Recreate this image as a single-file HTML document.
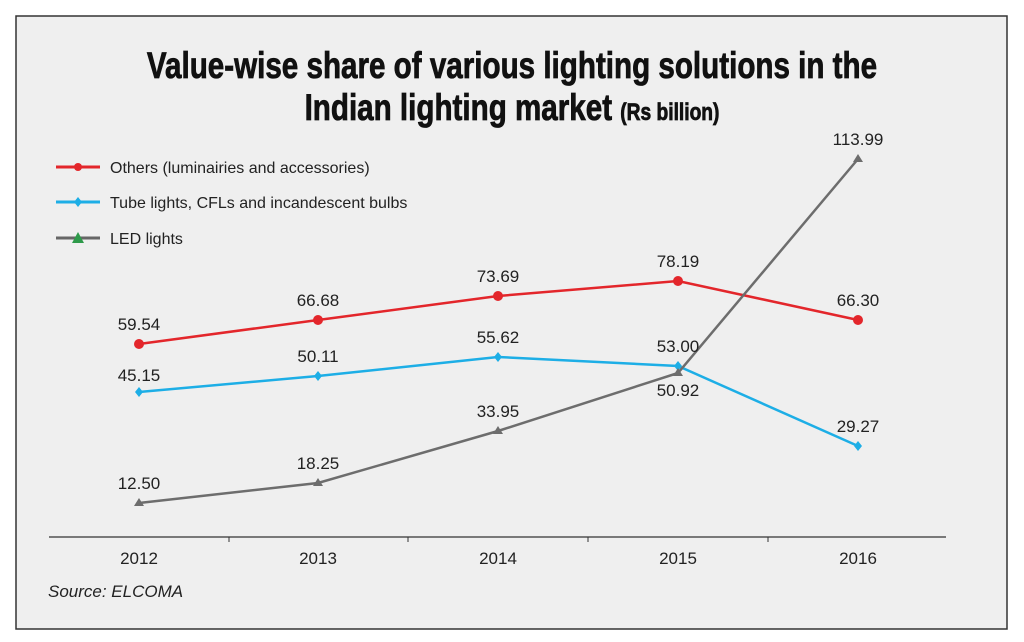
<!DOCTYPE html>
<html><head><meta charset="utf-8"><style>
body{margin:0;background:#fff;}
svg{display:block;}
</style></head><body>
<svg width="1024" height="642" xmlns="http://www.w3.org/2000/svg" font-family="Liberation Sans, sans-serif">
<rect x="16" y="16" width="991" height="613" fill="#efefef" stroke="#333" stroke-width="1.5"/>
<g font-family="Liberation Sans Narrow, Liberation Sans, sans-serif" font-weight="bold" fill="#111" text-anchor="middle" stroke="#111" stroke-width="0.8">
<text x="512" y="78" font-size="37" transform="translate(512 0) scale(0.80 1) translate(-512 0)">Value-wise share of various lighting solutions in the</text>
<text x="512" y="120" font-size="37" transform="translate(512 0) scale(0.80 1) translate(-512 0)">Indian lighting market <tspan font-size="24">(Rs billion)</tspan></text>
</g>
<g font-size="16" fill="#222">
<line x1="56" y1="167" x2="100" y2="167" stroke="#e3262b" stroke-width="3"/><circle cx="78" cy="167" r="4" fill="#e3262b"/>
<text x="110" y="173">Others (luminairies and accessories)</text>
<line x1="56" y1="202" x2="100" y2="202" stroke="#1daee6" stroke-width="3"/><path d="M78 197 L82 202 L78 207 L74 202Z" fill="#1daee6"/>
<text x="110" y="208">Tube lights, CFLs and incandescent bulbs</text>
<line x1="56" y1="238" x2="100" y2="238" stroke="#666" stroke-width="3"/><path d="M78 232 L84 243 L72 243Z" fill="#2e9a4a"/>
<text x="110" y="244">LED lights</text>
</g>
<line x1="49" y1="537" x2="946" y2="537" stroke="#333" stroke-width="1.2"/>
<g stroke="#333"><line x1="229" y1="537" x2="229" y2="542"/><line x1="408" y1="537" x2="408" y2="542"/><line x1="588" y1="537" x2="588" y2="542"/><line x1="768" y1="537" x2="768" y2="542"/></g>
<g font-size="17" fill="#222" text-anchor="middle">
<text x="139" y="564">2012</text><text x="318" y="564">2013</text><text x="498" y="564">2014</text><text x="678" y="564">2015</text><text x="858" y="564">2016</text>
</g>
<text x="48" y="597" font-size="17" font-style="italic" fill="#222">Source: ELCOMA</text>
<polyline points="139,344 318,320 498,296 678,281 858,320" fill="none" stroke="#e3262b" stroke-width="2.5"/>
<g fill="#e3262b"><circle cx="139" cy="344" r="5"/><circle cx="318" cy="320" r="5"/><circle cx="498" cy="296" r="5"/><circle cx="678" cy="281" r="5"/><circle cx="858" cy="320" r="5"/></g>
<polyline points="139,392 318,376 498,357 678,366 858,446" fill="none" stroke="#1daee6" stroke-width="2.5"/>
<g fill="#1daee6"><path d="M139 387l4 5-4 5-4-5z"/><path d="M318 371l4 5-4 5-4-5z"/><path d="M498 352l4 5-4 5-4-5z"/><path d="M678 361l4 5-4 5-4-5z"/><path d="M858 441l4 5-4 5-4-5z"/></g>
<polyline points="139,503 318,483 498,431 678,373 858,159" fill="none" stroke="#6d6d6d" stroke-width="2.5"/>
<g fill="#6d6d6d"><path d="M139 498l5 8h-10z"/><path d="M318 478l5 8h-10z"/><path d="M498 426l5 8h-10z"/><path d="M678 368l5 8h-10z"/><path d="M858 154l5 8h-10z"/></g>
<g font-size="17" fill="#222" text-anchor="middle">
<text x="139" y="330">59.54</text><text x="318" y="306">66.68</text><text x="498" y="282">73.69</text><text x="678" y="267">78.19</text><text x="858" y="306">66.30</text>
<text x="139" y="381">45.15</text><text x="318" y="362">50.11</text><text x="498" y="343">55.62</text><text x="678" y="352">53.00</text><text x="858" y="432">29.27</text>
<text x="139" y="489">12.50</text><text x="318" y="469">18.25</text><text x="498" y="417">33.95</text><text x="678" y="396">50.92</text><text x="858" y="145">113.99</text>
</g>
</svg>
</body></html>
